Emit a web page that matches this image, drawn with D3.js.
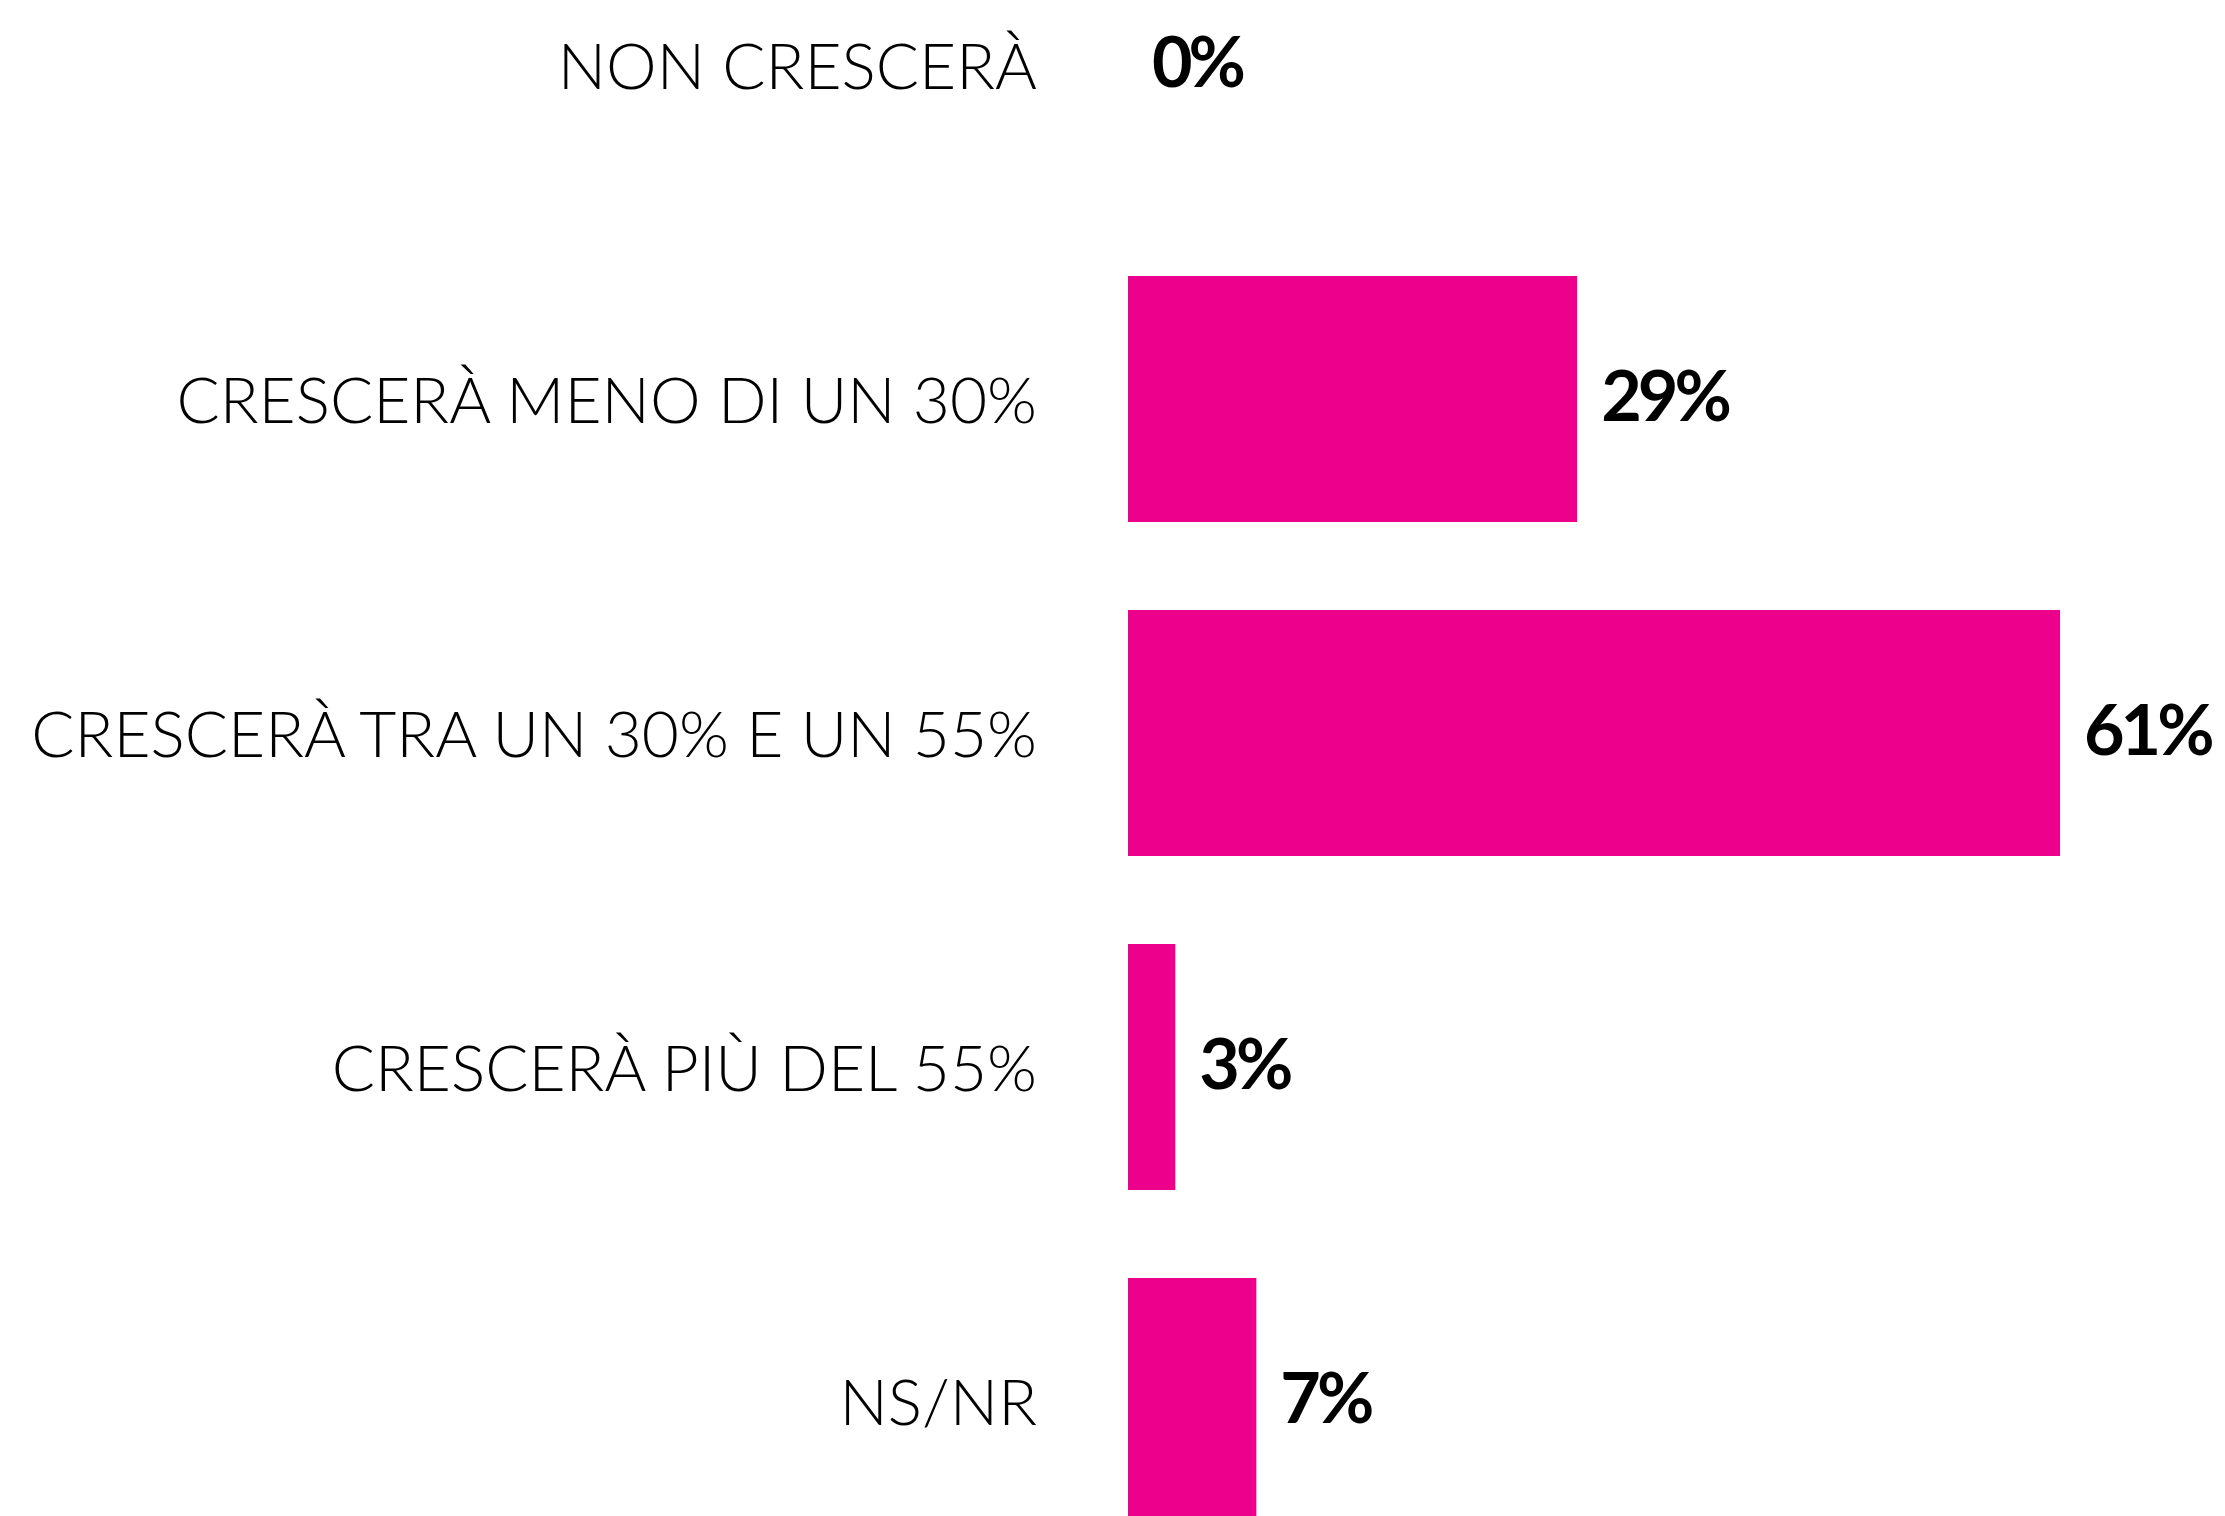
<!DOCTYPE html>
<html>
<head>
<meta charset="utf-8">
<script src="https://cdn.jsdelivr.net/npm/d3@7"></script>
<style>
  html, body { margin: 0; padding: 0; background: #fff; overflow: hidden; }
</style>
</head>
<body>
<div id="chart"></div>
<script>
// categories and values
const categories = [
  "NON CRESCERÀ",
  "CRESCERÀ MENO DI UN 30%",
  "CRESCERÀ TRA UN 30% E UN 55%",
  "CRESCERÀ PIÙ DEL 55%",
  "NS/NR"
];
// bar lengths as measured (the printed labels are rounded)
const values = [0, 29.4, 61, 3.1, 8.4];
const valueLabels = ["0%", "29%", "61%", "3%", "7%"];

var width = 2225, height = 1516;

const svg = d3.select("#chart")
    .append("svg")
    .attr("width", width)
    .attr("height", height);

// bar start / end along x
var x = d3.scaleLinear()
    .domain([0, 61])
    .range([1128, 2060]);

// bands run off the top and bottom of the frame like in the original
var y = d3.scaleBand()
    .domain(categories)
    .range([-58, 1524])
    .paddingInner(0.2635)
    .paddingOuter(0);

const data = categories.map((c, i) => ({cat: c, value: values[i], label: valueLabels[i]}));

// bars
svg.append("g")
  .selectAll("rect")
  .data(data)
  .join("rect")
    .attr("x", x(0))
    .attr("y", d => y(d.cat))
    .attr("width", d => x(d.value) - x(0))
    .attr("height", y.bandwidth())
    .style("fill", "#ec008c");

// category labels on the left
svg.append("g")
  .selectAll("text")
  .data(data)
  .join("text")
    .attr("x", 1037)
    .attr("y", d => y(d.cat) + y.bandwidth() / 2 + 24)
    .attr("text-anchor", "end")
    .style("font-family", "Lato, 'Open Sans', sans-serif")
    .style("font-weight", 300)
    .style("font-size", "64px")
    .style("fill", "#000")
    .text(d => d.cat);

// value labels
svg.append("g")
  .selectAll("text")
  .data(data)
  .join("text")
    .attr("x", d => x(d.value) + 24)
    .attr("y", d => y(d.cat) + y.bandwidth() / 2 + 22)
    .style("font-family", "Lato, sans-serif")
    .style("font-weight", 700)
    .style("font-size", "70px")
    .style("letter-spacing", "-4px")
    .style("fill", "#000")
    .text(d => d.label);
</script>
</body>
</html>
